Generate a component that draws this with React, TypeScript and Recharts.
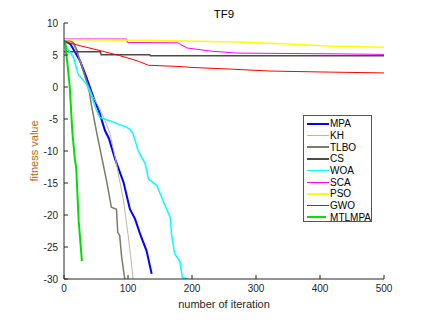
import React from 'react';
import { LineChart, Line, XAxis, YAxis } from 'recharts';

// iteration / fitness pairs
const mpaIter = [0, 10, 25, 35, 46, 56, 64, 70, 80, 93, 103, 111, 119, 129, 137];
const mpaFit = [7.3, 6.7, 4.1, 1.5, -1.6, -4.2, -6.8, -8, -11.3, -14.9, -19.1, -20.6, -23, -25.6, -29.2];

const khIter = [0, 12, 20, 27, 33, 45, 56, 64, 72, 82, 93, 100, 104, 108];
const khFit = [7.3, 7.1, 5.5, 3.6, 1.5, -1.5, -3.4, -5.2, -7.3, -12, -17.8, -23, -26.3, -30];

const tlboIter = [0, 10, 15, 20, 25, 30, 35, 40, 43, 51, 59, 67, 74, 82, 84, 87, 90, 95];
const tlboFit = [7.3, 7.2, 6.9, 5.8, 4, 2.5, 1, -1, -2.9, -7.1, -11, -14.9, -18.8, -19.1, -22.7, -23.2, -26.5, -30];

const csIter = [0, 57, 58, 134, 135, 500];
const csFit = [5.5, 5.5, 5.05, 5.05, 4.9, 4.9];

const woaIter = [0, 4, 15, 22, 35, 43, 51, 56, 72, 98, 103, 108, 116, 127, 132, 145, 155, 166, 168, 173, 181, 185, 194];
const woaFit = [7.3, 6.2, 4.6, 2, 0.5, -1.4, -3.7, -4.75, -5.3, -6.3, -6.6, -7.3, -10, -12, -14.4, -15.4, -17.8, -20.4, -23, -26.1, -27.2, -29.8, -30];

const scaIter = [0, 98, 99, 178, 192, 230, 270, 400, 500];
const scaFit = [7.5, 7.5, 6.95, 6.9, 6.1, 5.6, 5.3, 5.2, 5.1];

const psoIter = [0, 120, 270, 350, 420, 500];
const psoFit = [7.4, 7.3, 7.05, 6.7, 6.35, 6.2];

const gwoIter = [0, 4, 25, 56, 87, 114, 132, 181, 200, 260, 320, 400, 500];
const gwoFit = [7.3, 7.0, 6.45, 5.7, 4.9, 4.1, 3.4, 3.2, 3.05, 2.8, 2.5, 2.35, 2.2];

const mtlIter = [0, 2, 6, 9, 13, 17, 19, 23, 25, 28];
const mtlFit = [7.3, 6.8, 3, 0, -7, -11.3, -12.5, -21, -23.5, -27.2];

const xTicks = [0, 100, 200, 300, 400, 500];
const yTicks = [-30, -25, -20, -15, -10, -5, 0, 5, 10];

const toPoints = (iter: number[], fit: number[]) => iter.map((x, i) => ({ x, y: fit[i] }));

const series = [
  { name: 'MPA', data: toPoints(mpaIter, mpaFit), color: '#0000ff', width: 2 },
  { name: 'KH', data: toPoints(khIter, khFit), color: '#c4b49c', width: 1 },
  { name: 'TLBO', data: toPoints(tlboIter, tlboFit), color: '#7c7a68', width: 1.5 },
  { name: 'CS', data: toPoints(csIter, csFit), color: '#4a4a4a', width: 1.5 },
  { name: 'WOA', data: toPoints(woaIter, woaFit), color: '#00ffff', width: 1.5 },
  { name: 'SCA', data: toPoints(scaIter, scaFit), color: '#ff00ff', width: 1 },
  { name: 'PSO', data: toPoints(psoIter, psoFit), color: '#ffff00', width: 1.5 },
  { name: 'GWO', data: toPoints(gwoIter, gwoFit), color: '#ff0000', width: 1 },
  { name: 'MTLMPA', data: toPoints(mtlIter, mtlFit), color: '#00e000', width: 2 },
];

const axisColor = '#262626';
const font = '"Liberation Sans", Arial, sans-serif';
const tickStyle = { fontSize: 10, fill: axisColor, fontFamily: font };

const Legend = () => (
  <div
    style={{
      position: 'absolute',
      left: 303,
      top: 115,
      width: 69,
      height: 107,
      border: '1px solid #555',
      background: '#fff',
      boxSizing: 'border-box',
      paddingTop: 2,
    }}
  >
    {series.map((s) => (
      <div key={s.name} style={{ display: 'flex', alignItems: 'center', height: 11.7 }}>
        <div style={{ marginLeft: 3, width: 22, height: s.width, background: s.color }} />
        <span
          style={{
            fontFamily: font,
            fontSize: 10,
            color: '#000',
            marginLeft: s.name === 'MTLMPA' ? 4 : 1,
            lineHeight: '11px',
          }}
        >
          {s.name}
        </span>
      </div>
    ))}
  </div>
);

export default function App() {
  return (
    <div style={{ position: 'absolute', left: 0, top: 0, width: 429, height: 328, background: '#fff' }}>
      <div
        style={{
          position: 'absolute',
          left: 64,
          width: 320,
          top: 8,
          textAlign: 'center',
          fontFamily: font,
          fontSize: 11.5,
          color: '#000',
        }}
      >
        TF9
      </div>
      <LineChart width={429} height={328} margin={{ top: 23, right: 45, left: 0, bottom: 0 }}>
        <XAxis
          dataKey="x"
          type="number"
          domain={[0, 500]}
          ticks={xTicks}
          allowDataOverflow
          height={49}
          tickSize={-4}
          tickMargin={10}
          tick={tickStyle}
          stroke={axisColor}
          label={{
            value: 'number of iteration',
            position: 'insideBottom',
            offset: 20,
            style: { fontSize: 11, fill: axisColor, fontFamily: font },
          }}
        />
        <XAxis
          xAxisId="top"
          orientation="top"
          dataKey="x"
          type="number"
          domain={[0, 500]}
          ticks={xTicks}
          height={0}
          tickSize={-4}
          tickFormatter={() => ''}
          stroke={axisColor}
        />
        <YAxis
          type="number"
          domain={[-30, 10]}
          ticks={yTicks}
          allowDataOverflow
          width={64}
          tickSize={-4}
          tickMargin={10}
          tick={tickStyle}
          stroke={axisColor}
          label={{
            value: 'fitness value',
            angle: -90,
            position: 'insideLeft',
            offset: 34,
            style: { fontSize: 11, fill: '#b26a14', fontFamily: font, textAnchor: 'middle' },
          }}
        />
        <YAxis
          yAxisId="right"
          orientation="right"
          type="number"
          domain={[-30, 10]}
          ticks={yTicks}
          width={0}
          tickSize={-4}
          tickFormatter={() => ''}
          stroke={axisColor}
        />
        {series.map((s) => (
          <Line
            key={s.name}
            data={s.data}
            dataKey="y"
            name={s.name}
            type="linear"
            stroke={s.color}
            strokeWidth={s.width}
            dot={false}
            isAnimationActive={false}
          />
        ))}
      </LineChart>
      <Legend />
    </div>
  );
}
